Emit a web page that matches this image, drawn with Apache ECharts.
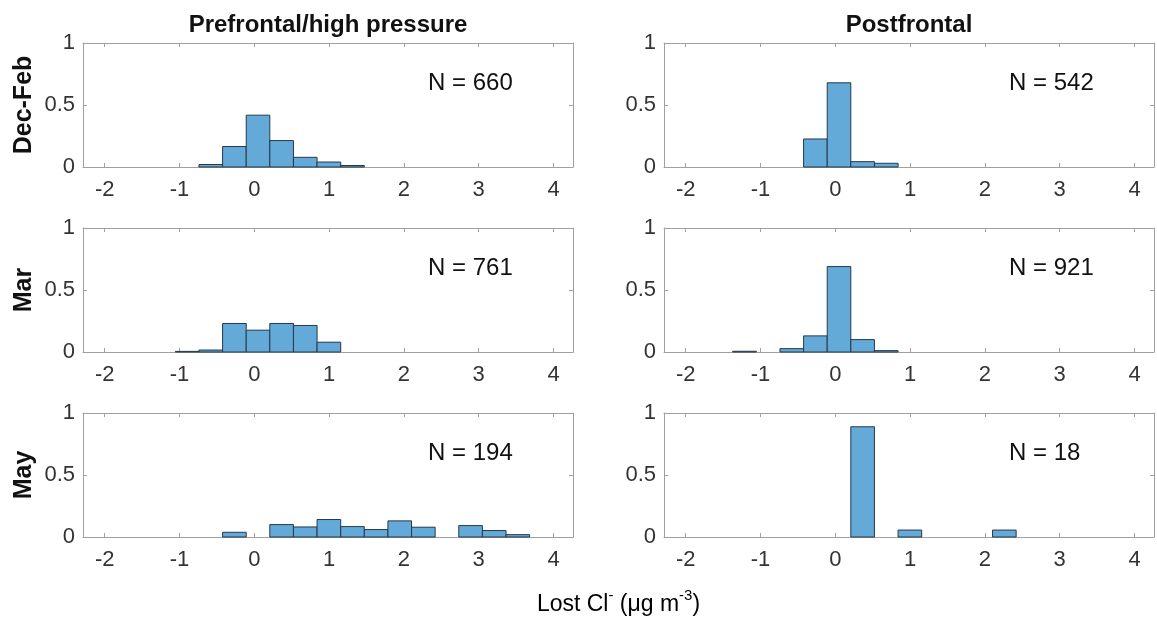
<!DOCTYPE html>
<html>
<head>
<meta charset="utf-8">
<script src="https://cdn.jsdelivr.net/npm/echarts@6/dist/echarts.min.js"></script>
<style>
  html, body { margin: 0; padding: 0; background: #fff; }
  #chart { width: 1157px; height: 617px; }
</style>
</head>
<body>
<div id="chart"></div>
<script>
// histogram bin edges (µg m-3), shared by all panels
const binEdges = [-1.371, -1.055, -0.740, -0.424, -0.108, 0.207, 0.523, 0.839,
  1.155, 1.470, 1.786, 2.102, 2.417, 2.733, 3.049, 3.365, 3.680]

// relative frequency per bin
const decFebPre  = [0, 0, 0.020, 0.165, 0.418, 0.213, 0.078, 0.040, 0.012, 0, 0, 0, 0, 0, 0, 0]
const decFebPost = [0, 0, 0, 0.226, 0.679, 0.043, 0.030, 0, 0, 0, 0, 0, 0, 0, 0, 0]
const marPre     = [0, 0.005, 0.016, 0.230, 0.176, 0.230, 0.214, 0.079, 0, 0, 0, 0, 0, 0, 0, 0]
const marPost    = [0.006, 0, 0.027, 0.130, 0.689, 0.100, 0.011, 0, 0, 0, 0, 0, 0, 0, 0, 0]
const mayPre     = [0, 0, 0, 0.038, 0, 0.100, 0.081, 0.141, 0.084, 0.060, 0.130, 0.079, 0, 0.092, 0.052, 0.019]
const mayPost    = [0, 0, 0, 0, 0, 0.889, 0, 0.056, 0, 0, 0, 0.056, 0, 0, 0, 0]

const seasons = ['Dec-Feb', 'Mar', 'May']
const regimes = ['Prefrontal/high pressure', 'Postfrontal']
const nCounts = [[660, 542], [761, 921], [194, 18]]
const panels = [[decFebPre, decFebPost], [marPre, marPost], [mayPre, mayPost]]

const FONT = '"Liberation Sans", Arial, sans-serif'
const boxColor = '#a0a0a0'
const labelColor = '#333'
const colLeft = [83, 664]
const rowTop = [43, 228, 413]
const plotW = 490, plotH = 124
const xMin = -2.29, xMax = 4.26

const grid = [], xAxis = [], yAxis = [], series = [], graphic = []

panels.forEach((row, r) => {
  row.forEach((freq, c) => {
    const i = r * 2 + c
    grid.push({ left: colLeft[c], top: rowTop[r], width: plotW, height: plotH })

    const xBase = {
      gridIndex: i, type: 'value', min: xMin, max: xMax,
      minInterval: 1, maxInterval: 1,
      axisLine: { show: true, onZero: false, lineStyle: { color: boxColor, width: 1 } },
      axisTick: { inside: true, length: 4, lineStyle: { color: boxColor } },
      splitLine: { show: false }
    }
    xAxis.push(Object.assign({}, xBase, {
      position: 'bottom',
      axisLabel: {
        color: labelColor, fontSize: 22, fontFamily: FONT, margin: 12,
        showMinLabel: false, showMaxLabel: false,
        formatter: v => Number.isInteger(v) ? String(v) : ''
      }
    }))
    xAxis.push(Object.assign({}, xBase, { position: 'top', axisLabel: { show: false } }))

    const yBase = {
      gridIndex: i, type: 'value', min: 0, max: 1, interval: 0.5,
      axisLine: { show: true, onZero: false, lineStyle: { color: boxColor, width: 1 } },
      axisTick: { inside: true, length: 4, lineStyle: { color: boxColor } },
      splitLine: { show: false }
    }
    yAxis.push(Object.assign({}, yBase, {
      position: 'left',
      axisLabel: { color: labelColor, fontSize: 22, fontFamily: FONT, margin: 8 }
    }))
    yAxis.push(Object.assign({}, yBase, { position: 'right', axisLabel: { show: false } }))

    const data = []
    freq.forEach((h, k) => { if (h > 0) data.push([binEdges[k], binEdges[k + 1], h]) })

    series.push({
      type: 'custom', coordinateSystem: 'cartesian2d',
      xAxisIndex: i * 2, yAxisIndex: i * 2,
      encode: { x: [0, 1], y: 2 },
      data: data,
      z: 3,
      renderItem: (params, api) => {
        const p0 = api.coord([api.value(0), 0])
        const p1 = api.coord([api.value(1), api.value(2)])
        return {
          type: 'rect',
          shape: { x: p0[0], y: p1[1], width: p1[0] - p0[0], height: p0[1] - p1[1] },
          style: { fill: '#64aad8', stroke: '#26384a', lineWidth: 1 }
        }
      }
    })

    // N = ... annotation
    graphic.push({
      type: 'text', x: colLeft[c] + 345, y: rowTop[r] + 40,
      style: {
        text: 'N = ' + nCounts[r][c], fontSize: 24, fontFamily: FONT, fill: '#111',
        textAlign: 'left', textVerticalAlign: 'middle'
      }
    })
  })

  // row label
  graphic.push({
    type: 'text', x: 24, y: rowTop[r] + plotH / 2, rotation: Math.PI / 2,
    style: {
      text: seasons[r], fontSize: 25, fontWeight: 'bold', fontFamily: FONT, fill: '#111',
      textAlign: 'center', textVerticalAlign: 'middle'
    }
  })
})

// column titles
regimes.forEach((t, c) => {
  graphic.push({
    type: 'text', x: colLeft[c] + plotW / 2, y: 25,
    style: {
      text: t, fontSize: 24, fontWeight: 'bold', fontFamily: FONT, fill: '#111',
      textAlign: 'center', textVerticalAlign: 'middle'
    }
  })
})

// shared x axis name
graphic.push({
  type: 'text', x: (colLeft[0] + colLeft[1] + plotW) / 2, y: 602,
  style: {
    text: '{a|Lost Cl}{b|-}{a| (μg m}{b|-3}{a|)}',
    textAlign: 'center', textVerticalAlign: 'middle',
    rich: {
      a: { fontSize: 23, fontFamily: FONT, color: labelColor, lineHeight: 28, verticalAlign: 'bottom' },
      b: { fontSize: 15, fontFamily: FONT, color: labelColor, verticalAlign: 'top', lineHeight: 15 }
    }
  }
})

const chart = echarts.init(document.getElementById('chart'), null, { renderer: 'canvas' })
chart.setOption({
  animation: false,
  backgroundColor: '#fff',
  grid, xAxis, yAxis, series, graphic
})
</script>
</body>
</html>
